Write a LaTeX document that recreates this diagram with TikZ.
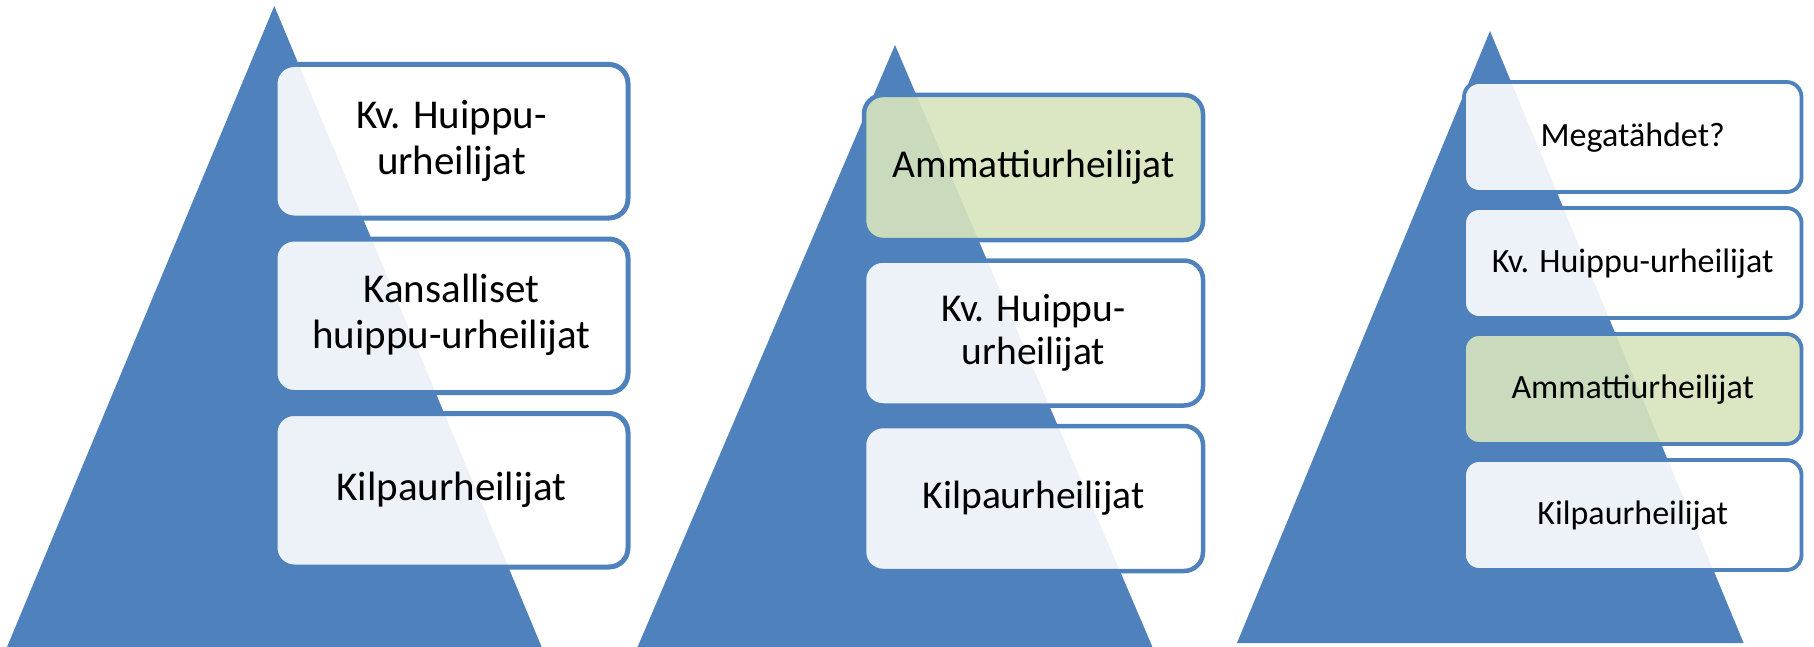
\documentclass[tikz,border=0pt]{standalone}
\usepackage{fontspec}
\setmainfont{Carlito}
\definecolor{pblue}{HTML}{4F81BD}
\definecolor{pgreen}{HTML}{D7E4BD}
\begin{document}
\begin{tikzpicture}[x=1pt,y=-1pt,
  pyr/.style={fill=pblue, draw=none},
  tier/.style={draw=pblue, fill=white, fill opacity=0.9, text opacity=1,
    draw opacity=1, inner sep=0pt, outer sep=0pt, align=center, text=black},
  tierA/.style={tier, line width=5pt, rounded corners=19pt,
    minimum width=353pt, minimum height=153.5pt,
    font=\fontsize{41}{46}\selectfont, text height=32pt, text depth=12pt},
  twoA/.style={text height=78pt},
  tierB/.style={tier, line width=4.5pt, rounded corners=19pt,
    minimum width=339pt, minimum height=145pt,
    font=\fontsize{39.5}{43}\selectfont, text height=31pt, text depth=11pt},
  twoB/.style={text height=74pt},
  tierC/.style={tier, line width=3.8pt, rounded corners=15pt,
    minimum width=337.5pt, minimum height=110pt,
    font=\fontsize{34}{37}\selectfont, text height=28pt, text depth=9pt},
  hl/.style={fill=pgreen}
]
\useasboundingbox (0,0) rectangle (1814,647);
\clip (0,0) rectangle (1814,647);

% pyramid 1
\fill[pyr] (274.3,6) -- (1.6,660) -- (547.1,660) -- cycle;
\node[tierA,twoA] (p1a) at (451.5,141.25) {Kv. Huippu-\\urheilijat};
\node[tierA,twoA] (p1b) at (451.5,315.75) {Kansalliset\\huippu-urheilijat};
\node[tierA] (p1c) at (451.5,490.25) {Kilpaurheilijat};

% pyramid 2
\fill[pyr] (895,45) -- (632,660) -- (1158,660) -- cycle;
\node[tierB,hl] (p2a) at (1033.5,167.5) {Ammattiurheilijat};
\node[tierB,twoB] (p2b) at (1033.5,333) {Kv. Huippu-\\urheilijat};
\node[tierB] (p2c) at (1033.5,498.5) {Kilpaurheilijat};

% pyramid 3
\fill[pyr] (1490,31) -- (1237,643) -- (1743.6,643) -- cycle;
\node[tierC] (p3a) at (1632.75,137) {Megatähdet?};
\node[tierC] (p3b) at (1632.75,263) {Kv. Huippu-urheilijat};
\node[tierC,hl] (p3c) at (1632.75,389) {Ammattiurheilijat};
\node[tierC] (p3d) at (1632.75,515) {Kilpaurheilijat};
\end{tikzpicture}
\end{document}
